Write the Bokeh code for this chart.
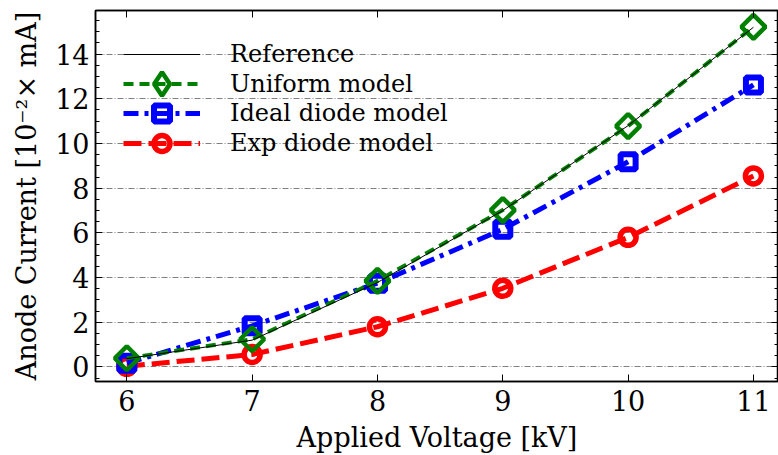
import numpy as np
from bokeh.plotting import figure
from bokeh.models import (Range1d, LinearAxis, SingleIntervalTicker, FixedTicker,
                          Legend, LegendItem, ColumnDataSource)
from bokeh.embed import file_html
from bokeh.resources import INLINE

# ---- data ----
voltage = [6, 7, 8, 9, 10, 11]
reference = [0.37, 1.2, 3.78, 7.0, 10.8, 15.2]
uniform = [0.39, 1.24, 3.85, 7.02, 10.78, 15.22]
ideal_diode = [0.17, 1.84, 3.75, 6.16, 9.18, 12.62]
exp_diode = [0.03, 0.56, 1.8, 3.52, 5.8, 8.55]
x_ticks = [6, 7, 8, 9, 10, 11]
labels = ["Reference", "Uniform model", "Ideal diode model", "Exp diode model"]

FONT = "DejaVu Serif"

p = figure(width=778, height=455, output_backend="svg", toolbar_location=None,
           x_range=Range1d(5.75, 11.2), y_range=Range1d(-0.65, 15.95),
           min_border_left=95, min_border_right=0, min_border_top=10, min_border_bottom=74)
p.background_fill_color = "white"
p.border_fill_color = "white"
p.outline_line_color = "black"
p.outline_line_width = 1.5

src = ColumnDataSource(dict(x=voltage, ref=reference, uni=uniform, ideal=ideal_diode, exp=exp_diode))
empty = ColumnDataSource(dict(x=[np.nan], y=[np.nan]))

# exp diode
r_exp_l = p.line("x", "exp", source=src, line_color="red", line_width=5, line_dash="18 7")
r_exp_m = p.scatter("x", "exp", source=src, marker="circle", size=16, line_color="red",
                    line_width=5.5, fill_color=None)
# ideal diode
r_id_l = p.line("x", "ideal", source=src, line_color="blue", line_width=5, line_dash="15 6 4 6")
r_id_m = p.scatter("x", "ideal", source=src, marker="square", size=15, line_color="blue",
                   line_width=6, fill_color=None)
# uniform
r_un_l = p.line("x", "uni", source=src, line_color="green", line_width=4, line_dash="10 6")
r_un_m = p.scatter("x", "uni", source=src, marker="square", angle=np.pi / 4, size=17,
                   line_color="green", line_width=4.5, fill_color=None)
# legend-only diamond (legend markers cannot be rotated)
r_un_leg = p.scatter("x", "y", source=empty, marker="diamond", size=10,
                     line_color="green", line_width=4.5, fill_color=None)
# reference
r_ref = p.line("x", "ref", source=src, line_color="black", line_width=1)

# axes
xt = FixedTicker(ticks=x_ticks, minor_ticks=[])
yt = SingleIntervalTicker(interval=2, num_minor_ticks=4)
p.xaxis.ticker = xt
p.yaxis.ticker = yt
p.xaxis.axis_label = "Applied Voltage [kV]"
p.yaxis.axis_label = "Anode Current [10\u207b\u00b2\u00d7 mA]"

for ax in (p.xaxis[0], p.yaxis[0]):
    ax.axis_label_text_font = FONT
    ax.axis_label_text_font_style = "normal"
    ax.axis_label_text_font_size = "27px"
    ax.axis_label_text_color = "black"
    ax.major_label_text_font = FONT
    ax.major_label_text_font_size = "27px"
    ax.major_label_text_color = "black"
    ax.axis_line_color = "black"
    ax.axis_line_width = 1.5
    ax.major_tick_in = 7
    ax.major_tick_out = 0
    ax.minor_tick_in = 4
    ax.minor_tick_out = 0
    ax.major_tick_line_color = "black"
    ax.minor_tick_line_color = "black"
    ax.major_label_standoff = 6
p.xaxis.major_label_standoff = 8
p.xaxis.axis_label_standoff = 8
p.yaxis.axis_label_standoff = 10

top = LinearAxis(ticker=FixedTicker(ticks=x_ticks, minor_ticks=[]), major_label_text_font_size="0px",
                 major_label_text_color=None,
                 major_tick_in=7, major_tick_out=0, major_label_standoff=0,
                 axis_line_color="black", axis_line_width=1.5)
right = LinearAxis(ticker=SingleIntervalTicker(interval=2, num_minor_ticks=4),
                   major_label_text_font_size="0px", major_label_text_color=None,
                   major_tick_in=7, major_tick_out=0,
                   minor_tick_in=4, minor_tick_out=0, major_label_standoff=0,
                   axis_line_color="black", axis_line_width=1.5)
p.add_layout(top, "above")
p.add_layout(right, "right")

# grid
p.xgrid.visible = False
p.ygrid.ticker = yt
p.ygrid.grid_line_color = "#808080"
p.ygrid.grid_line_width = 1
p.ygrid.grid_line_dash = "6 2 1 2"

# legends: one per row so that each row's marker can have its own size
rows = [
    (labels[0], [r_ref], 30, 312),
    (labels[1], [r_un_l, r_un_leg], 59, 268),
    (labels[2], [r_id_l, r_id_m], 40, 248),
    (labels[3], [r_exp_l, r_exp_m], 40, 218),
]
for lab, rends, gh, vy in rows:
    lg = Legend(items=[LegendItem(label=lab, renderers=rends)], location=(28, vy))
    lg.glyph_width = 77
    lg.glyph_height = gh
    lg.label_height = 20
    lg.spacing = 0
    lg.label_standoff = 30
    lg.padding = 0
    lg.margin = 0
    lg.border_line_color = None
    lg.background_fill_alpha = 0
    lg.label_text_font = FONT
    lg.label_text_font_size = "24px"
    lg.label_text_color = "black"
    p.add_layout(lg, "center")

open("out.html", "w").write(file_html(p, INLINE))
